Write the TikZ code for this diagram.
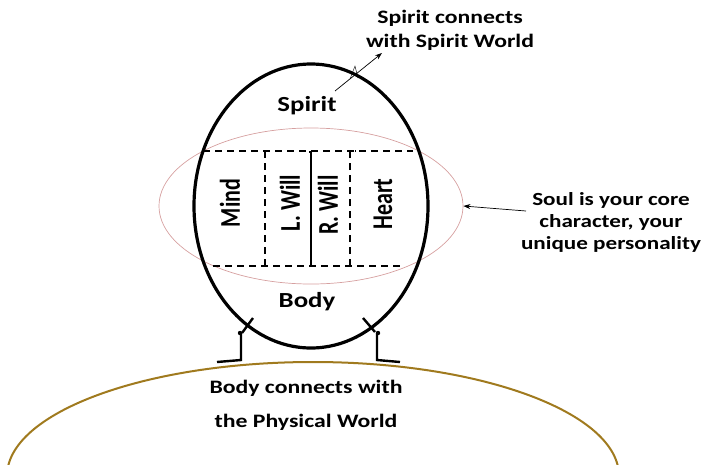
\documentclass[tikz,border=0pt]{standalone}
\usepackage{fontspec}
\setmainfont{Carlito}[FakeStretch=1.25]
\newfontfamily\uprightfont{Carlito}
\usepackage{graphicx}
\usepackage{xcolor}
\usetikzlibrary{positioning, arrows.meta, shapes.geometric}

\definecolor{worldbrown}{RGB}{160,122,30}
\definecolor{soulpink}{RGB}{214,160,160}

\begin{document}
\begin{tikzpicture}[x=1pt, y=-1pt, thick]
    % Styles
    \tikzstyle{note} = [align=center, inner sep=0pt, font=\fontsize{19}{24}\selectfont\bfseries]
    \tikzstyle{part} = [inner sep=0pt, font=\fontsize{21.5}{24}\selectfont\bfseries]
    \tikzstyle{side} = [rotate=90, inner sep=0pt, font=\uprightfont\fontsize{22}{24}\selectfont\bfseries]
    \tikzstyle{arrow} = [line width=0.7pt, -{Stealth[length=7pt,width=5pt]}]
    \tikzstyle{divider} = [line width=1.4pt, dash pattern=on 7pt off 5pt]
    \tikzstyle{leg} = [line width=2.4pt]

    \useasboundingbox (0,0) rectangle (703,464);

    % Physical world
    \begin{scope}
        \clip (0,0) rectangle (703,464);
        \node (world) [ellipse, draw=worldbrown, line width=2pt, inner sep=0pt, minimum width=612pt, minimum height=228pt] at (313,476) {};
    \end{scope}

    % Soul and egg
    \node (soul) [ellipse, draw=soulpink, line width=0.7pt, inner sep=0pt, minimum width=304pt, minimum height=156pt] at (311,206) {};
    \node (egg) [ellipse, draw, line width=3.2pt, inner sep=0pt, minimum width=234pt, minimum height=284pt] at (311,206) {};

    % Soul compartments
    \draw [divider] (203,151) -- (413,151);
    \draw [divider] (213,266) -- (403,266);
    \draw [divider] (265,151) -- (265,266);
    \draw [divider] (350,266) -- (350,151) -- (356,151);
    \draw [line width=1.4pt] (309,152) -- (311,152) -- (311,266);

    % Labels
    \node (spirit) [part] at (307,106) {Spirit};
    \node (body) [part] at (307,302) {Body};
    \node (mind) [side] at (230,203) {\scalebox{1}[1.3]{Mind}};
    \node (lwill) [side] at (290,203) {\scalebox{1}[1.3]{L. Will}};
    \node (rwill) [side] at (328,205) {\scalebox{1}[1.3]{R. Will}};
    \node (heart) [side] at (383,204) {\scalebox{1}[1.3]{Heart}};

    % Notes
    \node (spiritnote) [note] at (450,30) {Spirit connects\\with Spirit World};
    \node (soulnote) [note, font=\fontsize{18.5}{22}\selectfont\bfseries] at (611,222) {Soul is your core\\character, your\\unique personality};
    \node (worldnote) [note] at (306,405) {Body connects with\\[10pt]the Physical World};

    % Arrows
    \coordinate (spiritstart) at (335,91);
    \coordinate (spiritend) at (382,53);
    \coordinate (soulstart) at (526,211);
    \draw [arrow] (spiritstart) -- (spiritend);
    \draw [arrow] (soulstart) -- (soul.east);
    \draw [line width=0.4pt] (350,79) -- (355,66) -- (358,78);

    % Legs
    \draw [leg] (253,318) -- (242,333);
    \draw [leg] (241,333) -- (241,360) -- (217,362);
    \fill (240,333) circle (2.2);
    \draw [leg] (363,318) -- (375,332);
    \draw [leg] (377,333) -- (377,360) -- (400,362);
    \fill (378,333) circle (2.2);

\end{tikzpicture}
\end{document}
